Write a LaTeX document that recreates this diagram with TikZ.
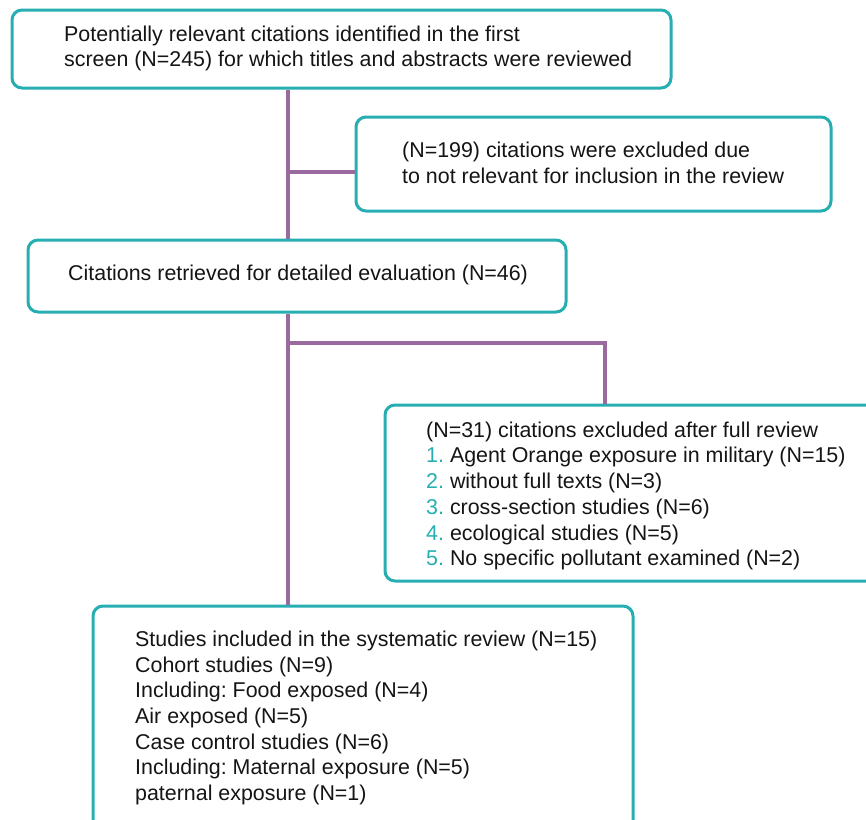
\documentclass[tikz,border=0pt]{standalone}
\usepackage{fontspec}
\setmainfont{Liberation Sans}
\usetikzlibrary{calc}
\definecolor{boxteal}{HTML}{27AEB3}
\definecolor{linepurple}{HTML}{9A6A9E}
\definecolor{txt}{HTML}{151515}
\frenchspacing
\begin{document}
\begin{tikzpicture}[x=1pt,y=-1pt,
  box/.style={draw=boxteal, line width=3pt, rounded corners=10pt, fill=white, rectangle, inner sep=0pt},
  label/.style={anchor=west, align=left, inner sep=0pt, text=txt, font=\fontsize{21.4}{25.7}\selectfont},
  conn/.style={draw=linepurple, line width=3.2pt}]
\useasboundingbox (0,0) rectangle (866,819);
\clip (0,0) rectangle (866,819);
% boxes
\node[box, minimum width=659pt, minimum height=78pt] (b1) at (341.5,49) {};
\node[box, minimum width=475pt, minimum height=94pt] (b2) at (593.5,164) {};
\node[box, minimum width=538pt, minimum height=72pt] (b3) at (297,276) {};
\node[box, minimum width=515pt, minimum height=176pt] (b4) at (642.5,493) {};
\node[box, minimum width=540pt, minimum height=254pt] (b5) at (363,733) {};
% connector geometry
\coordinate (trunk) at (288,0);
\coordinate (br1) at (288,172);
\coordinate (br2) at (288,343);
\coordinate (br2r) at (605,343);
% connectors
\draw[conn] (b1.south -| trunk) -- (b3.north -| trunk);
\draw[conn] (br1) -- (br1 -| b2.west);
\draw[conn] (b3.south -| trunk) -- (b5.north -| trunk);
\draw[conn] (br2) -- (br2r) -- (b4.north -| br2r);
% texts
\node[label] (t1) at (64,48.5) {Potentially relevant citations identified in the first\\screen (N=245) for which titles and abstracts were reviewed};
\node[label] (t2) at (402,162.5) {(N=199) citations were excluded due\\to not relevant for inclusion in the review};
\node[label] (t3) at (68,275) {Citations retrieved for detailed evaluation (N=46)};
\node[label] (t4) at (426,496) {(N=31) citations excluded after full review\\
\textcolor{boxteal}{1.} Agent Orange exposure in military (N=15)\\
\textcolor{boxteal}{2.} without full texts (N=3)\\
\textcolor{boxteal}{3.} cross-section studies (N=6)\\
\textcolor{boxteal}{4.} ecological studies (N=5)\\
\textcolor{boxteal}{5.} No specific pollutant examined (N=2)};
\node[label] (t5) at (135,718) {Studies included in the systematic review (N=15)\\
Cohort studies (N=9)\\
Including: Food exposed (N=4)\\
Air exposed (N=5)\\
Case control studies (N=6)\\
Including: Maternal exposure (N=5)\\
paternal exposure (N=1)};
\end{tikzpicture}
\end{document}
